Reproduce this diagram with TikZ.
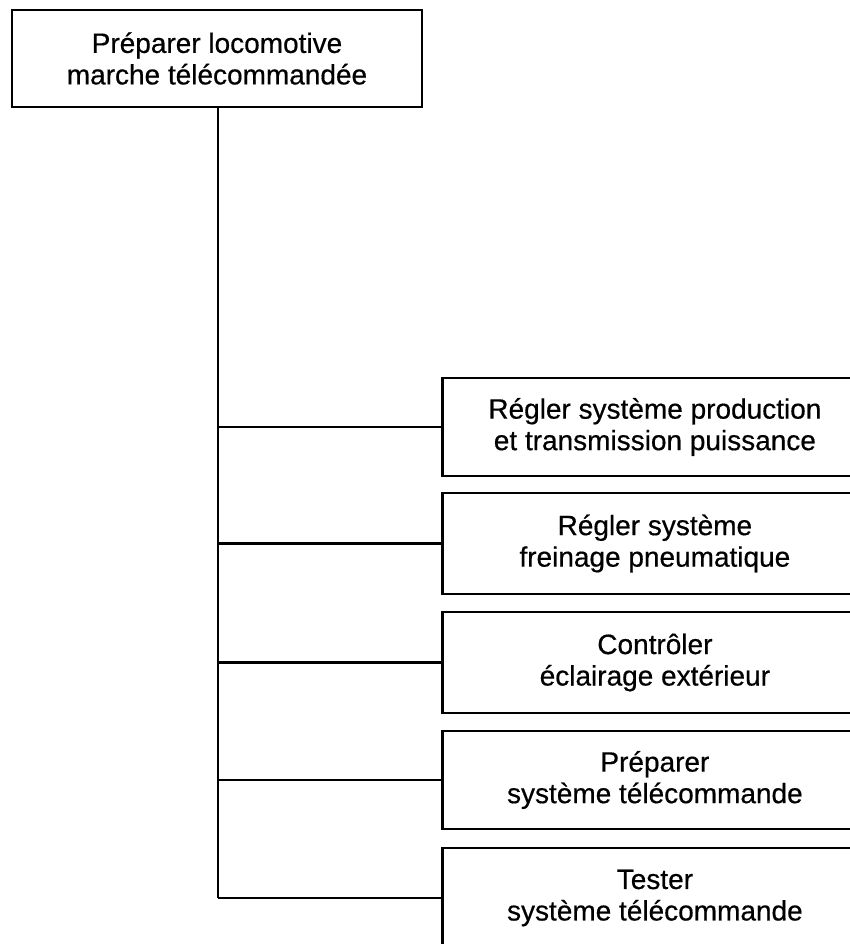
\documentclass[tikz,border=0pt]{standalone}
\usepackage{fontspec}
\setmainfont{Liberation Sans}
\newfontfamily\boxfont[FakeBold=0.5]{Liberation Sans}
\begin{document}
\begin{tikzpicture}[x=1pt,y=1pt,
  box/.style={draw=black, line width=2.8pt, fill=white, align=center, inner sep=0pt,
    font=\boxfont\fontsize{28}{31.5}\selectfont},
  link/.style={draw=black, line width=2.8pt}]
\useasboundingbox (0,0) rectangle (850,944);
\clip (0,0) rectangle (850,944);
\fill[white] (0,0) rectangle (850,944);
\node[box, minimum width=410, minimum height=97] (top) at (217,885.5)
  {Préparer locomotive\\marche télécommandée};
\node[box, minimum width=425, minimum height=98, anchor=west] (c1) at (441,517)
  {Régler système production\\et transmission puissance};
\node[box, minimum width=425, minimum height=101, anchor=west] (c2) at (441,400.5)
  {Régler système\\freinage pneumatique};
\node[box, minimum width=425, minimum height=101, anchor=west] (c3) at (441,281.5)
  {Contrôler\\éclairage extérieur};
\node[box, minimum width=425, minimum height=98, anchor=west] (c4) at (441,164)
  {Préparer\\système télécommande};
\node[box, minimum width=425, minimum height=100, anchor=west] (c5) at (441,46)
  {Tester\\système télécommande};
\coordinate (t) at ([xshift=1pt]top.south);
\draw[link] (t) -- (t |- c5.west);
\foreach \c in {c1,c2,c3,c4,c5}
  \draw[link] (t |- \c.west) -- (\c.west);
\end{tikzpicture}
\end{document}
